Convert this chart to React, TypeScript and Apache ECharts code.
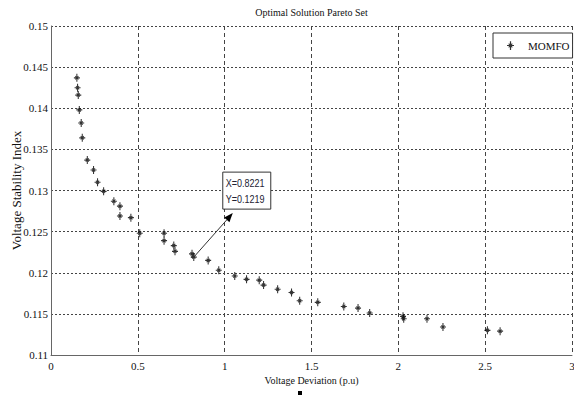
import React, { useEffect, useRef } from "react";
import * as echarts from "echarts";

// Pareto front: voltage deviation (p.u) vs. voltage stability index
const deviation = [
  0.149, 0.153, 0.157, 0.163, 0.174, 0.18, 0.209, 0.245, 0.268, 0.303,
  0.362, 0.397, 0.397, 0.46, 0.511, 0.651, 0.651, 0.707, 0.714, 0.812,
  0.8221, 0.905, 0.966, 1.058, 1.126, 1.199, 1.224, 1.305, 1.385, 1.432,
  1.536, 1.686, 1.768, 1.835, 2.027, 2.031, 2.165, 2.257, 2.513, 2.586,
];
const stability = [
  0.1437, 0.1425, 0.1416, 0.1398, 0.1382, 0.1364, 0.1337, 0.1325, 0.131, 0.1299,
  0.1287, 0.1281, 0.1269, 0.1267, 0.1248, 0.1248, 0.1239, 0.1233, 0.1226, 0.1223,
  0.1219, 0.1215, 0.1203, 0.1196, 0.1192, 0.1191, 0.1185, 0.118, 0.1176, 0.1166,
  0.1164, 0.1159, 0.1157, 0.1151, 0.1147, 0.1144, 0.1144, 0.1134, 0.113, 0.1129,
];
const seriesName = "MOMFO";
const tipPoint = [0.8221, 0.1219];

const ASTERISK =
  "path://M4.3 0H5.7V10H4.3Z M1 4.3H9V5.7H1Z M2.5 3.3L3.3 2.5L7.5 6.7L6.7 7.5Z M6.7 2.5L7.5 3.3L3.3 7.5L2.5 6.7Z";

const SERIF = "Liberation Serif";
const SANS = "Liberation Sans";

export default function App() {
  const ref = useRef<HTMLDivElement>(null);

  useEffect(() => {
    if (!ref.current) return;
    const chart = echarts.init(ref.current, undefined, { renderer: "svg" });
    const points = deviation.map((x, i) => [x, stability[i]]);

    chart.setOption({
      animation: false,
      backgroundColor: "#fff",
      textStyle: { fontFamily: SERIF },
      grid: { left: 51, right: 2, top: 26, bottom: 41, outerBoundsMode: "none", containLabel: false },
      legend: {
        left: 493,
        top: 33,
        padding: [7, 3, 7, 14],
        borderColor: "#333",
        borderWidth: 1,
        backgroundColor: "#fff",
        itemWidth: 7,
        itemHeight: 9,
        data: [{ name: seriesName, icon: ASTERISK }],
        itemStyle: { color: "#000" },
        textStyle: { fontFamily: SERIF, fontSize: 11, color: "#111", padding: [0, 0, 0, 9] },
      },
      xAxis: {
        type: "value",
        min: 0,
        max: 3,
        interval: 0.5,
        name: "Voltage Deviation (p.u)",
        nameLocation: "middle",
        nameGap: 20,
        nameMoveOverlap: false,
        nameTextStyle: { fontFamily: SERIF, fontSize: 10, color: "#111" },
        axisLine: { show: true, onZero: false, lineStyle: { color: "#666", width: 1 } },
        axisTick: { show: false },
        axisLabel: { fontFamily: SERIF, fontSize: 11, color: "#111", margin: 5 },
        splitLine: { show: true, lineStyle: { color: "#444", type: [4, 3], width: 1 } },
      },
      yAxis: {
        type: "value",
        min: 0.11,
        max: 0.15,
        interval: 0.005,
        name: "Voltage Stability Index",
        nameLocation: "middle",
        nameGap: 28,
        nameRotate: 90,
        nameMoveOverlap: false,
        nameTextStyle: { fontFamily: SERIF, fontSize: 13, color: "#111" },
        axisLine: { show: true, onZero: false, lineStyle: { color: "#666", width: 1 } },
        axisTick: { show: false },
        axisLabel: {
          fontFamily: SERIF,
          fontSize: 11,
          color: "#111",
          margin: 3,
          formatter: (v: number) => String(parseFloat(v.toFixed(3))),
        },
        splitLine: { show: true, lineStyle: { color: "#444", type: [2, 2], width: 1 } },
      },
      series: [
        {
          name: seriesName,
          type: "scatter",
          data: points,
          symbol: ASTERISK,
          symbolSize: [6, 8],
          itemStyle: { color: "#000" },
        },
      ],
    });

    // Data tip with arrow pointing at the selected solution
    const p = chart.convertToPixel({ gridIndex: 0 }, tipPoint) as number[];
    const end = [p[0] + 39, p[1] - 44];
    const ang = Math.atan2(end[1] - p[1], end[0] - p[0]);
    const hl = 9;
    const hw = 3.5;
    const base = [end[0] - hl * Math.cos(ang), end[1] - hl * Math.sin(ang)];
    const nx = -Math.sin(ang);
    const ny = Math.cos(ang);
    const boxX = p[0] + 29;
    const boxY = p[1] - 85;

    const tipText = (text: string, dy: number) => ({
      type: "text",
      x: boxX + 3,
      y: boxY + dy,
      scaleX: 0.82,
      style: {
        text,
        fontFamily: SANS,
        fontSize: 11,
        fill: "#223",
        textVerticalAlign: "middle",
      },
      z: 101,
    });

    chart.setOption({
      graphic: [
        {
          type: "text",
          x: 311.5,
          y: 12.5,
          style: {
            text: "Optimal Solution Pareto Set",
            fontFamily: SERIF,
            fontSize: 10,
            fill: "#111",
            textAlign: "center",
            textVerticalAlign: "middle",
          },
        },
        {
          type: "line",
          shape: { x1: p[0], y1: p[1], x2: base[0], y2: base[1] },
          style: { stroke: "#333", lineWidth: 1 },
          z: 100,
        },
        {
          type: "polygon",
          shape: {
            points: [
              end,
              [base[0] + nx * hw, base[1] + ny * hw],
              [base[0] - nx * hw, base[1] - ny * hw],
            ],
          },
          style: { fill: "#000" },
          z: 100,
        },
        {
          type: "rect",
          shape: { x: boxX, y: boxY, width: 48, height: 37 },
          style: { fill: "#fff", stroke: "#333", lineWidth: 1 },
          z: 100,
        },
        tipText("X=0.8221", 11.5),
        tipText("Y=0.1219", 27),
        {
          type: "rect",
          shape: { x: 298, y: 391, width: 4, height: 4 },
          style: { fill: "#000" },
        },
      ],
    });

    return () => chart.dispose();
  }, []);

  return (
    <div
      ref={ref}
      style={{ position: "fixed", left: 0, top: 0, width: 574, height: 396, background: "#fff" }}
    />
  );
}
